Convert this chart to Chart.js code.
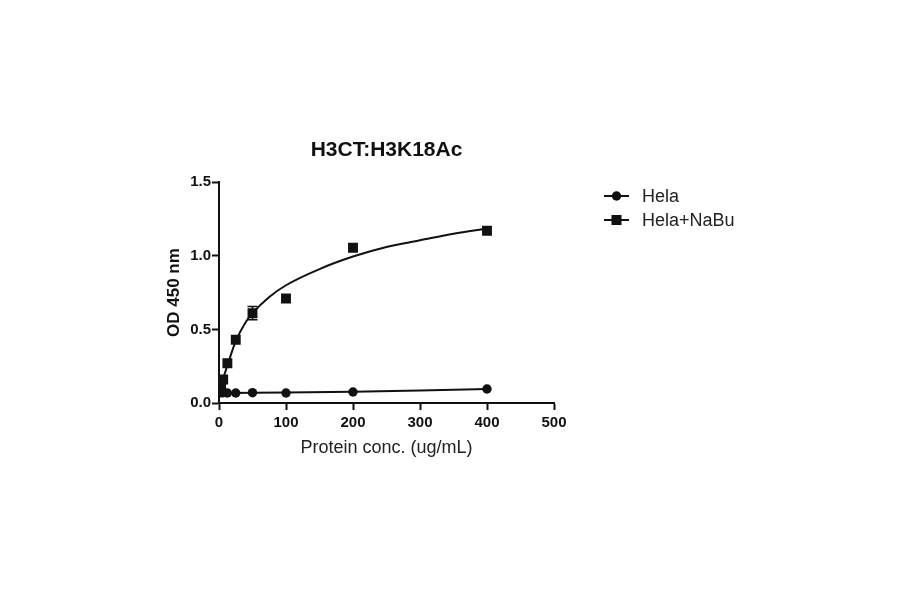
<!DOCTYPE html>
<html>
<head>
<meta charset="utf-8">
<script src="https://cdn.jsdelivr.net/npm/chart.js@4"></script>
<style>
  html, body { margin: 0; padding: 0; background: #fff; }
  #wrap { width: 900px; height: 594px; }
</style>
</head>
<body>
<div id="wrap"><canvas id="grafico"></canvas></div>
<script>
// dados (concentração em ug/mL)
const concentracoes = [0, 0.78, 1.56, 3.125, 6.25, 12.5, 25, 50, 100, 200, 400];
const helaOD = [0.07, 0.07, 0.072, 0.07, 0.07, 0.068, 0.068, 0.07, 0.068, 0.075, 0.095];
const nabuOD = [0.08, 0.09, 0.10, 0.12, 0.16, 0.27, 0.43, 0.61, 0.71, 1.055, 1.17];
const nabuErro = [0, 0, 0, 0, 0, 0, 0, 0.045, 0, 0, 0];

// curvas ajustadas
const ajusteHelaX = [0, 50, 100, 200, 300, 400];
const ajusteHelaY = [0.068, 0.069, 0.071, 0.077, 0.085, 0.095];
const ajusteNabuX = [0, 2, 5, 10, 15, 25, 40, 50, 75, 100, 150, 200, 250, 300, 350, 400];
const ajusteNabuY = [0.075, 0.10, 0.15, 0.22, 0.29, 0.42, 0.55, 0.61, 0.72, 0.80, 0.91, 0.995, 1.06, 1.105, 1.15, 1.185];

const ticksX = [0, 100, 200, 300, 400, 500];
const ticksY = [0, 0.5, 1.0, 1.5];
const legendas = ['Hela', 'Hela+NaBu'];

const fonteBase = 'Arial, "Liberation Sans", sans-serif';
const preto = '#111';

function pares(xs, ys) {
  return xs.map((x, i) => ({ x: x, y: ys[i] }));
}

// barras de erro desenhadas pelas escalas
const barrasErro = {
  id: 'barrasErro',
  afterDatasetsDraw(chart) {
    const ctx = chart.ctx;
    const sx = chart.scales.x, sy = chart.scales.y;
    ctx.save();
    ctx.strokeStyle = preto;
    ctx.lineWidth = 1.5;
    concentracoes.forEach((c, i) => {
      const e = nabuErro[i];
      if (!e) return;
      const px = sx.getPixelForValue(c);
      const top = sy.getPixelForValue(nabuOD[i] + e);
      const bot = sy.getPixelForValue(nabuOD[i] - e);
      ctx.beginPath();
      ctx.moveTo(px, top); ctx.lineTo(px, bot);
      ctx.moveTo(px - 5, top); ctx.lineTo(px + 5, top);
      ctx.moveTo(px - 5, bot); ctx.lineTo(px + 5, bot);
      ctx.stroke();
    });
    ctx.restore();
  }
};

// legenda no estilo do GraphPad (linha + marcador)
const legendaLateral = {
  id: 'legendaLateral',
  afterDraw(chart) {
    const ctx = chart.ctx;
    const x0 = 604, y0 = 196, passo = 24;
    ctx.save();
    legendas.forEach((txt, i) => {
      const y = y0 + i * passo;
      ctx.strokeStyle = preto;
      ctx.lineWidth = 2;
      ctx.beginPath();
      ctx.moveTo(x0, y); ctx.lineTo(x0 + 25, y);
      ctx.stroke();
      ctx.fillStyle = preto;
      if (i === 0) {
        ctx.beginPath();
        ctx.arc(x0 + 12.5, y, 4.7, 0, Math.PI * 2);
        ctx.fill();
      } else {
        ctx.fillRect(x0 + 7.5, y - 5, 10, 10);
      }
      ctx.fillStyle = '#222';
      ctx.font = '18px ' + fonteBase;
      ctx.textBaseline = 'middle';
      ctx.fillText(txt, x0 + 38, y + 1);
    });
    ctx.restore();
  }
};

const eixo = {
  border: { display: true, color: preto, width: 2 },
  grid: { display: true, drawOnChartArea: false, drawTicks: true, tickLength: 7, tickColor: preto, tickWidth: 2 }
};

new Chart(document.getElementById('grafico'), {
  type: 'scatter',
  data: {
    datasets: [
      {
        label: 'Hela',
        data: pares(concentracoes, helaOD),
        showLine: false,
        pointStyle: 'circle',
        pointRadius: 4.7,
        backgroundColor: preto,
        borderColor: preto,
        borderWidth: 0
      },
      {
        label: 'Hela+NaBu',
        data: pares(concentracoes, nabuOD),
        showLine: false,
        pointStyle: 'rect',
        pointRadius: 7,
        backgroundColor: preto,
        borderColor: preto,
        borderWidth: 0
      },
      {
        label: 'ajuste Hela',
        data: pares(ajusteHelaX, ajusteHelaY),
        showLine: true,
        pointRadius: 0,
        borderColor: preto,
        borderWidth: 2,
        cubicInterpolationMode: 'monotone'
      },
      {
        label: 'ajuste NaBu',
        data: pares(ajusteNabuX, ajusteNabuY),
        showLine: true,
        pointRadius: 0,
        borderColor: preto,
        borderWidth: 2,
        cubicInterpolationMode: 'monotone'
      }
    ]
  },
  options: {
    responsive: true,
    maintainAspectRatio: false,
    animation: false,
    layout: { padding: { left: 164, right: 346, top: 138, bottom: 135 } },
    scales: {
      x: {
        type: 'linear',
        min: 0,
        max: 500,
        afterBuildTicks: s => { s.ticks = ticksX.map(v => ({ value: v })); },
        afterFit: s => { s.height = 56; },
        ticks: { color: preto, padding: 4, font: { family: fonteBase, size: 15, weight: 'bold' } },
        title: {
          display: true,
          text: 'Protein conc. (ug/mL)',
          color: '#222',
          padding: 0,
          font: { family: fonteBase, size: 18 }
        },
        ...eixo
      },
      y: {
        type: 'linear',
        min: 0,
        max: 1.5,
        afterBuildTicks: s => { s.ticks = ticksY.map(v => ({ value: v })); },
        afterFit: s => { s.width = 55; },
        ticks: {
          color: preto,
          padding: 1,
          font: { family: fonteBase, size: 15, weight: 'bold' },
          callback: v => Number(v).toFixed(1)
        },
        title: {
          display: true,
          text: 'OD 450 nm',
          color: preto,
          padding: 0,
          font: { family: fonteBase, size: 17, weight: 'bold' }
        },
        ...eixo
      }
    },
    plugins: {
      legend: { display: false },
      tooltip: { enabled: false },
      title: {
        display: true,
        fullSize: false,
        text: 'H3CT:H3K18Ac',
        color: preto,
        padding: { top: 0, bottom: 19 },
        font: { family: fonteBase, size: 21, weight: 'bold' }
      }
    }
  },
  plugins: [barrasErro, legendaLateral]
});
</script>
</body>
</html>
